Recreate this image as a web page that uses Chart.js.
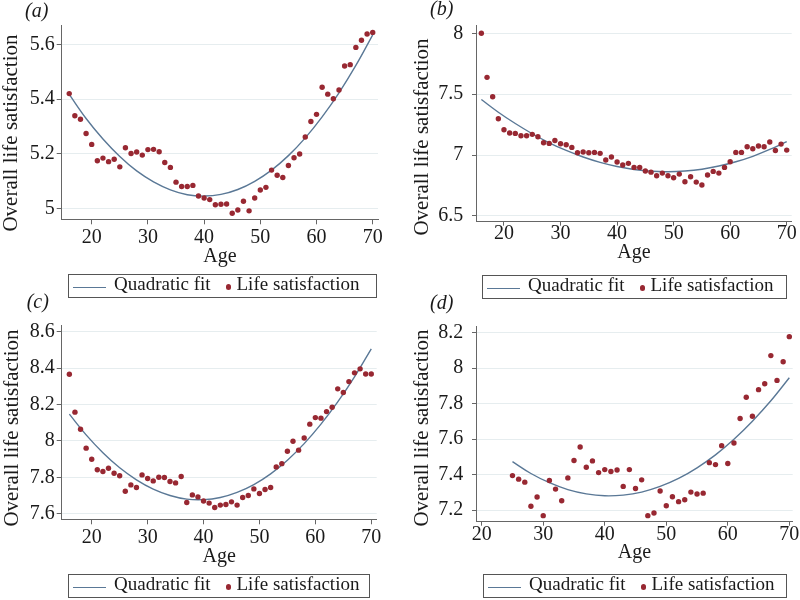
<!DOCTYPE html>
<html>
<head>
<meta charset="utf-8">
<script src="https://cdn.jsdelivr.net/npm/chart.js@4.4.0/dist/chart.umd.min.js"></script>
<style>
html,body{margin:0;padding:0;background:#fff;}
body{width:800px;height:600px;position:relative;overflow:hidden;font-family:"Liberation Serif","Times New Roman",serif;color:#1a1a1a;}
.panel{position:absolute;width:400px;height:300px;}
.panel canvas{position:absolute;left:0;top:0;}
.tag{position:absolute;font-style:italic;font-size:20px;line-height:20px;white-space:nowrap;}
.ytitle{position:absolute;font-size:21px;line-height:21px;white-space:nowrap;transform:translate(-50%,-50%) rotate(-90deg);}
.legend{position:absolute;box-sizing:border-box;border:1px solid #555;background:#fff;height:24px;}
.lline{position:absolute;left:4px;top:11.5px;width:33px;height:0;border-top:1.5px solid #5a7896;}
.ldot{position:absolute;left:156.7px;top:9px;width:5.6px;height:5.6px;border-radius:50%;background:#982832;}
.lt{position:absolute;top:-1px;font-size:19px;line-height:19px;white-space:nowrap;}
</style>
</head>
<body>
<script>
// ---------------- data ----------------
const ages = [16,17,18,19,20,21,22,23,24,25,26,27,28,29,30,31,32,33,34,35,36,37,38,39,40,41,42,43,44,45,46,47,48,49,50,51,52,53,54,55,56,57,58,59,60,61,62,63,64,65,66,67,68,69,70];
const agesD = [25,26,27,28,29,30,31,32,33,34,35,36,37,38,39,40,41,42,43,44,45,46,47,48,49,50,51,52,53,54,55,56,57,58,59,60,61,62,63,64,65,66,67,68,69,70];

const satA = [5.420,5.339,5.326,5.274,5.234,5.174,5.184,5.171,5.180,5.152,
              5.222,5.201,5.206,5.195,5.215,5.216,5.207,5.168,5.150,5.096,
              5.080,5.080,5.084,5.045,5.038,5.032,5.013,5.015,5.016,4.982,
              4.994,5.026,4.991,5.038,5.067,5.077,5.140,5.121,5.113,5.157,
              5.185,5.199,5.261,5.318,5.344,5.443,5.418,5.401,5.433,5.521,
              5.526,5.589,5.615,5.638,5.644];
const satB = [8.000,7.638,7.479,7.298,7.208,7.181,7.178,7.159,7.159,7.170,
              7.151,7.101,7.096,7.120,7.093,7.085,7.063,7.019,7.025,7.019,
              7.022,7.014,6.959,6.984,6.943,6.918,6.932,6.899,6.899,6.869,
              6.860,6.830,6.852,6.830,6.814,6.844,6.781,6.822,6.778,6.754,
              6.836,6.866,6.852,6.899,6.945,7.022,7.022,7.068,7.052,7.074,
              7.068,7.107,7.038,7.090,7.041];
const satC = [8.366,8.158,8.064,7.960,7.899,7.841,7.832,7.850,7.822,7.808,
              7.723,7.758,7.744,7.813,7.793,7.780,7.800,7.799,7.777,7.769,
              7.804,7.661,7.703,7.692,7.670,7.658,7.634,7.647,7.650,7.665,
              7.647,7.689,7.700,7.736,7.711,7.733,7.744,7.857,7.875,7.943,
              7.998,7.949,8.016,8.092,8.128,8.125,8.161,8.185,8.286,8.266,
              8.326,8.374,8.396,8.368,8.368];
const satD = [7.394,7.374,7.357,7.221,7.273,7.168,7.366,7.318,7.252,7.381,
              7.479,7.555,7.441,7.477,7.411,7.428,7.417,7.426,7.333,7.428,
              7.321,7.370,7.168,7.183,7.307,7.224,7.275,7.247,7.258,7.301,
              7.290,7.295,7.467,7.456,7.563,7.462,7.578,7.716,7.836,7.729,
              7.879,7.912,8.071,7.931,8.036,8.178];

const fitAges = [16,19,22,25,28,31,34,37,40,43,46,49,52,55,58,61,64,67,70];
const fitA = [5.417,5.329,5.254,5.190,5.137,5.097,5.068,5.050,5.045,5.051,5.069,5.099,5.140,5.193,5.258,5.335,5.423,5.523,5.635];
const fitB = [7.456,7.352,7.259,7.175,7.101,7.038,6.984,6.940,6.906,6.882,6.867,6.863,6.869,6.884,6.910,6.945,6.990,7.046,7.111];
const fitC = [8.147,8.033,7.935,7.852,7.786,7.735,7.700,7.680,7.677,7.689,7.717,7.760,7.819,7.894,7.985,8.092,8.214,8.352,8.506];
const fitAgesD = [25,28,31,34,37,40,43,46,49,52,55,58,61,64,67,70];
const fitD = [7.473,7.406,7.354,7.315,7.291,7.280,7.284,7.301,7.333,7.378,7.438,7.511,7.599,7.701,7.816,7.946];

const xTickValues = [20,30,40,50,60,70];
const xTickLabels = ['20','30','40','50','60','70'];
const yTicksA = [5,5.2,5.4,5.6];        const yLabelsA = ['5','5.2','5.4','5.6'];
const yTicksB = [6.5,7,7.5,8];          const yLabelsB = ['6.5','7','7.5','8'];
const yTicksC = [7.6,7.8,8,8.2,8.4,8.6]; const yLabelsC = ['7.6','7.8','8','8.2','8.4','8.6'];
const yTicksD = [7.2,7.4,7.6,7.8,8,8.2]; const yLabelsD = ['7.2','7.4','7.6','7.8','8','8.2'];

const panelTags = ['(a)','(b)','(c)','(d)'];
const xTitle = 'Age';
const yTitle = 'Overall life satisfaction';
const legendLineLabel = 'Quadratic fit';
const legendDotLabel = 'Life satisfaction';

// ---------------- styles / layout ----------------
const LINE_COLOR = '#5a7896';
const DOT_COLOR = '#982832';
const AXIS_COLOR = '#666';
const GRID_COLOR = '#e6edef';
const TEXT_COLOR = '#1a1a1a';
const FONT = '"Liberation Serif","Times New Roman",serif';

const panels = [
  {tag:panelTags[0], px:0,   py:0,   ages:ages,  sat:satA, fx:fitAges,  fy:fitA, yt:yTicksA, yl:yLabelsA,
   L:61.7, R:378,   T:25, B:219.3, xmin:14.66, xmax:70.94, ymin:4.960, ymax:5.671,
   ytl:5, ytp:2, xtl:5, xDigitTop:231, ageCap:250.7,
   tagX:25, tagBase:17, ytx:9.5, yty:132.5, lg:{x:68, y:274, w:309}},
  {tag:panelTags[1], px:400, py:0,   ages:ages,  sat:satB, fx:fitAges,  fy:fitB, yt:yTicksB, yl:yLabelsB,
   L:76, R:391.7, T:25, B:221.7, xmin:15.05, xmax:70.88, ymin:6.453, ymax:8.068,
   ytl:4, ytp:8.7, xtl:4, xDigitTop:226.7, ageCap:246,
   tagX:30, tagBase:14.5, ytx:20.8, yty:136.7, lg:{x:82, y:275, w:305}},
  {tag:panelTags[2], px:0,   py:300, ages:ages,  sat:satC, fx:fitAges,  fy:fitC, yt:yTicksC, yl:yLabelsC,
   L:61.7, R:376.7, T:25, B:219.3, xmin:14.63, xmax:70.97, ymin:7.569, ymax:8.637,
   ytl:5, ytp:2, xtl:5, xDigitTop:231, ageCap:250.7,
   tagX:26.7, tagBase:8, ytx:10.8, yty:127.5, lg:{x:68, y:274, w:302}},
  {tag:panelTags[3], px:400, py:300, ages:agesD, sat:satD, fx:fitAgesD, fy:fitD, yt:yTicksD, yl:yLabelsD,
   L:76, R:392.7, T:26, B:221.7, xmin:19.07, xmax:70.55, ymin:7.134, ymax:8.238,
   ytl:4, ytp:8.7, xtl:4, xDigitTop:227.7, ageCap:246.7,
   tagX:30, tagBase:9, ytx:20.8, yty:127.5, lg:{x:83, y:274, w:304}}
];

function makePanel(p) {
  const div = document.createElement('div');
  div.className = 'panel';
  div.style.left = p.px + 'px';
  div.style.top = p.py + 'px';
  document.body.appendChild(div);

  const canvas = document.createElement('canvas');
  canvas.width = 400; canvas.height = 300;
  canvas.style.width = '400px'; canvas.style.height = '300px';
  div.appendChild(canvas);

  // layout math
  const xTickPad = p.xDigitTop + 6.75 - p.B - p.xtl - 10;
  const ageMid = p.ageCap + 6.5;
  const xHeight = ageMid + 10 - p.B;
  const padBottom = 300 - p.B - xHeight;

  const dots = p.ages.map((a, i) => ({x: a, y: p.sat[i]}));
  const fit = p.fx.map((a, i) => ({x: a, y: p.fy[i]}));

  new Chart(canvas, {
    type: 'scatter',
    data: {
      datasets: [
        {label: legendDotLabel, data: dots, backgroundColor: DOT_COLOR, borderWidth: 0,
         pointRadius: 2.7, pointHoverRadius: 2.7, showLine: false},
        {type: 'line', label: legendLineLabel, data: fit, borderColor: LINE_COLOR, borderWidth: 1.4,
         pointRadius: 0, tension: 0.4, fill: false, showLine: true}
      ]
    },
    options: {
      responsive: false,
      animation: false,
      devicePixelRatio: 1,
      layout: {padding: {left: 0, top: p.T, right: 400 - p.R, bottom: padBottom}},
      plugins: {legend: {display: false}, tooltip: {enabled: false}},
      scales: {
        x: {
          type: 'linear', position: 'bottom', min: p.xmin, max: p.xmax,
          afterBuildTicks: s => { s.ticks = xTickValues.map(v => ({value: v})); },
          afterFit: s => { s.height = xHeight; },
          ticks: {
            autoSkip: false, maxRotation: 0, minRotation: 0, padding: xTickPad, color: TEXT_COLOR,
            font: {family: FONT, size: 20, lineHeight: 1},
            callback: (v, i) => xTickLabels[i]
          },
          grid: {drawOnChartArea: false, drawTicks: true, tickLength: p.xtl, tickColor: AXIS_COLOR, tickWidth: 1},
          border: {display: true, color: AXIS_COLOR, width: 1},
          title: {display: true, text: xTitle, color: TEXT_COLOR, padding: 0,
                  font: {family: FONT, size: 20, lineHeight: 1}}
        },
        y: {
          type: 'linear', position: 'left', min: p.ymin, max: p.ymax,
          afterBuildTicks: s => { s.ticks = p.yt.map(v => ({value: v})); },
          afterFit: s => { s.width = p.L; },
          ticks: {
            autoSkip: false, padding: p.ytp, color: TEXT_COLOR,
            font: {family: FONT, size: 20, lineHeight: 1},
            callback: (v, i) => p.yl[i]
          },
          grid: {color: GRID_COLOR, lineWidth: 1, drawTicks: true, tickLength: p.ytl, tickColor: AXIS_COLOR, tickWidth: 1},
          border: {display: true, color: AXIS_COLOR, width: 1},
          title: {display: false}
        }
      }
    }
  });

  // panel tag
  const tag = document.createElement('div');
  tag.className = 'tag';
  tag.textContent = p.tag;
  tag.style.left = p.tagX + 'px';
  tag.style.top = (p.tagBase - 16.75) + 'px';
  div.appendChild(tag);

  // y-axis title
  const yt = document.createElement('div');
  yt.className = 'ytitle';
  yt.textContent = yTitle;
  yt.style.left = p.ytx + 'px';
  yt.style.top = p.yty + 'px';
  div.appendChild(yt);

  // legend
  const lg = document.createElement('div');
  lg.className = 'legend';
  lg.style.left = p.lg.x + 'px';
  lg.style.top = p.lg.y + 'px';
  lg.style.width = p.lg.w + 'px';
  lg.innerHTML = '<div class="lline"></div><span class="lt" style="left:45px"></span>' +
                 '<div class="ldot"></div><span class="lt" style="left:167.5px"></span>';
  const spans = lg.querySelectorAll('.lt');
  spans[0].textContent = legendLineLabel;
  spans[1].textContent = legendDotLabel;
  div.appendChild(lg);
}

panels.forEach(makePanel);
</script>
</body>
</html>
